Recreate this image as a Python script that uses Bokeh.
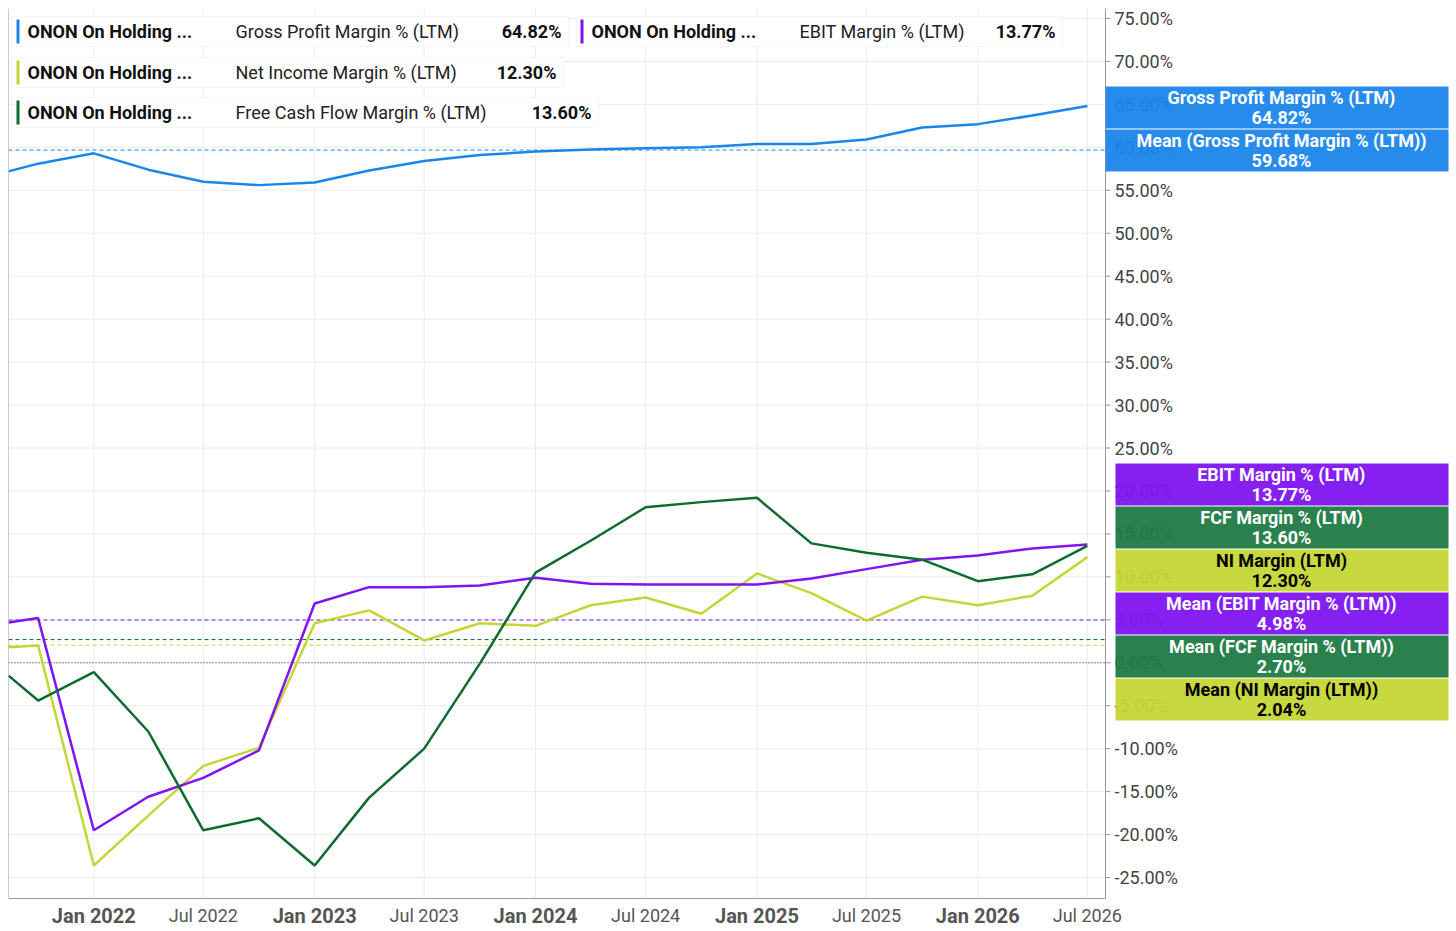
import pandas as pd
from bokeh.plotting import figure
from bokeh.models import Label, BoxAnnotation, FixedTicker, Range1d
from bokeh.embed import file_html
from bokeh.resources import INLINE

dates = ["2021-08-13"] + [str(d.date()) for d in pd.date_range("2021-10-01", "2026-07-01", freq="QS")]
gross = [57.2,58.1,59.3,57.4,56.0,55.6,55.9,57.3,58.4,59.1,59.5,59.75,59.9,60.0,60.4,60.4,60.9,62.3,62.7,63.7,64.82]
ebit = [4.7,5.2,-19.5,-15.6,-13.4,-10.2,6.9,8.8,8.8,9.0,9.9,9.2,9.1,9.1,9.1,9.8,10.9,12.0,12.5,13.3,13.77]
ni = [1.8,2.0,-23.6,-17.8,-12.0,-9.9,4.6,6.1,2.6,4.6,4.3,6.7,7.6,5.7,10.4,8.1,4.9,7.7,6.7,7.8,12.3]
fcf = [-1.5,-4.4,-1.1,-8.0,-19.5,-18.1,-23.6,-15.7,-10.0,-0.1,10.5,14.2,18.1,18.7,19.2,13.9,12.8,12.0,9.5,10.3,13.6]
means = {"gross": 59.68, "ebit": 4.98, "fcf": 2.70, "ni": 2.04}
y_ticks = list(range(-25, 80, 5))
tick_dates = ["2022-01-01","2022-07-01","2023-01-01","2023-07-01","2024-01-01","2024-07-01","2025-01-01","2025-07-01","2026-01-01","2026-07-01"]
tick_labels = ["Jan 2022","Jul 2022","Jan 2023","Jul 2023","Jan 2024","Jul 2024","Jan 2025","Jul 2025","Jan 2026","Jul 2026"]

C_G, C_E, C_N, C_F = "#1a85ea", "#8014f0", "#c4d637", "#0d6b2f"
FONT = "Roboto"

x = pd.to_datetime(dates)
ms = lambda s: pd.Timestamp(s).value / 1e6
XA, XB = ms("2021-08-13"), ms("2026-07-31")   # plot area x extent (px 8..1105)
YT, YB = 76.16, -27.44                          # plot area y extent (px 8..898)
sx = lambda px: XA + (px - 8) / (1105 - 8) * (XB - XA)
sy = lambda py: YT - (py - 8) / 890 * (YT - YB)

p = figure(width=1456, height=931, x_axis_type="datetime", output_backend="svg", toolbar_location=None,
           x_range=Range1d(XA, sx(1456)), y_range=Range1d(sy(931), YT),
           min_border_left=8, min_border_top=8, min_border_right=0, min_border_bottom=0)
p.outline_line_color = None
p.xaxis.visible = False
p.yaxis.visible = False
p.grid.visible = False

XR = sx(1105)
# grid
p.segment(x0=[XA] * len(y_ticks), x1=[XR] * len(y_ticks), y0=y_ticks, y1=y_ticks, line_color="#ececec", line_width=1)
td = [ms(t) for t in tick_dates]
p.segment(x0=td, x1=td, y0=[YB] * len(td), y1=[YT] * len(td), line_color="#ececec", line_width=1)
# borders / axis
p.segment(x0=[XA, XA, XR], x1=[XA, XR, XR], y0=[YB, YB, YB], y1=[YT, YB, YT], line_color="#999999", line_width=1)
p.segment(x0=[XR] * len(y_ticks), x1=[sx(1110)] * len(y_ticks), y0=y_ticks, y1=y_ticks, line_color="#999999")
for t in y_ticks:
    p.add_layout(Label(x=sx(1114), y=t, text=f"{t:.2f}%", text_baseline="middle", text_font=FONT,
                       text_font_size="18px", text_color="#444444"))

# means and zero
for val, c in [(means["gross"], C_G), (means["ebit"], C_E), (means["fcf"], C_F), (means["ni"], C_N)]:
    p.line([XA, XR], [val, val], line_color=c, line_dash="4 3", line_width=1)
p.line([XA, XR], [0, 0], line_color="#333333", line_dash="1 2", line_width=1)

for ys, c in [(gross, C_G), (ni, C_N), (ebit, C_E), (fcf, C_F)]:
    p.line(x, ys, line_color=c, line_width=2.5)

for t, lab in zip(tick_dates, tick_labels):
    bold = lab.startswith("Jan")
    p.add_layout(Label(x=ms(t), y=sy(915), text=lab, text_align="center", text_baseline="middle",
                       text_font=FONT, text_font_size="20px" if bold else "18px",
                       text_font_style="bold" if bold else "normal", text_color="#555555"))

# legend
items = [(12, 568, 16, 46, C_G, "Gross Profit Margin % (LTM)", "64.82%"),
         (576, 1062, 16, 46, C_E, "EBIT Margin % (LTM)", "13.77%"),
         (12, 563, 57, 87, C_N, "Net Income Margin % (LTM)", "12.30%"),
         (12, 598, 97, 127, C_F, "Free Cash Flow Margin % (LTM)", "13.60%")]
for l, r, t, b, c, name, v in items:
    p.add_layout(BoxAnnotation(left=sx(l), right=sx(r), top=sy(t), bottom=sy(b), fill_color="white",
                               fill_alpha=1, line_color="#dddddd", line_width=1, level="overlay"))
    p.add_layout(BoxAnnotation(left=sx(l + 4), right=sx(l + 7), top=sy(t + 3), bottom=sy(b - 3), fill_color=c,
                               fill_alpha=1, line_color=None, level="overlay"))
    cy = sy((t + b) / 2)
    p.add_layout(Label(x=sx(l + 15), y=cy, text="ONON  On Holding ...", text_baseline="middle", text_font=FONT,
                       text_font_size="18px", text_font_style="bold", text_color="#111111", level="overlay"))
    p.add_layout(Label(x=sx(l + 223), y=cy, text=name, text_baseline="middle", text_font=FONT,
                       text_font_size="18px", text_color="#222222", level="overlay"))
    p.add_layout(Label(x=sx(r - 7), y=cy, text=v, text_align="right", text_baseline="middle", text_font=FONT,
                       text_font_size="18px", text_font_style="bold", text_color="#111111", level="overlay"))

# right value boxes
boxes = [(1105, 86, 128, C_G, "white", "Gross Profit Margin % (LTM)", "64.82%"),
         (1105, 129, 171, C_G, "white", "Mean (Gross Profit Margin % (LTM))", "59.68%"),
         (1115, 463, 505, C_E, "white", "EBIT Margin % (LTM)", "13.77%"),
         (1115, 506, 548, "#1f7a45", "white", "FCF Margin % (LTM)", "13.60%"),
         (1115, 549, 591, C_N, "black", "NI Margin (LTM)", "12.30%"),
         (1115, 592, 634, C_E, "white", "Mean (EBIT Margin % (LTM))", "4.98%"),
         (1115, 635, 677, "#1f7a45", "white", "Mean (FCF Margin % (LTM))", "2.70%"),
         (1115, 678, 720, C_N, "black", "Mean (NI Margin (LTM))", "2.04%")]
for l, t, b, c, tc, name, v in boxes:
    p.add_layout(BoxAnnotation(left=sx(l), right=sx(1448), top=sy(t), bottom=sy(b), fill_color=c,
                               fill_alpha=0.95, line_color=None, level="overlay"))
    for txt, yy in [(name, t + 11), (v, t + 31)]:
        p.add_layout(Label(x=sx(1281), y=sy(yy), text=txt, text_align="center", text_baseline="middle",
                           text_font=FONT, text_font_size="18px", text_font_style="bold", text_color=tc,
                           level="overlay"))

open("out.html", "w").write(file_html(p, INLINE))
